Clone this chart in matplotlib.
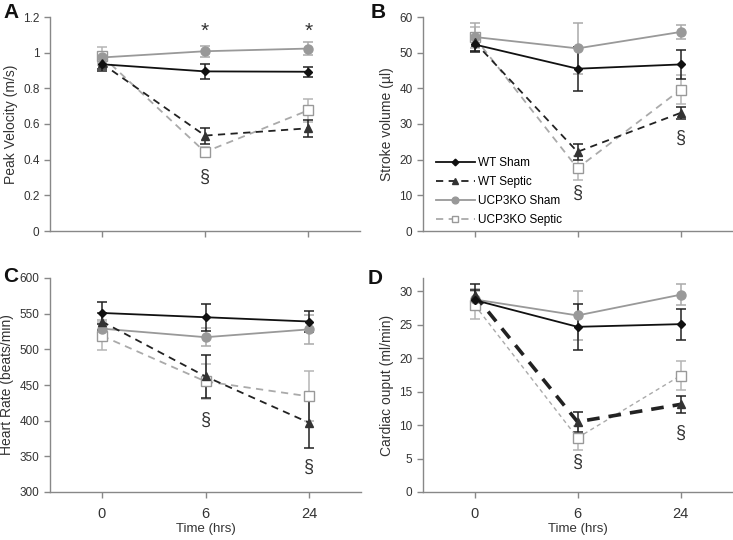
import matplotlib
matplotlib.use("Agg")
import matplotlib.pyplot as plt
import numpy as np
from matplotlib.lines import Line2D

plt.rcParams['font.family'] = ['Liberation Sans', 'DejaVu Sans']

time_labels = ["0", "6", "24"]
series_names = ["WT Sham", "WT Septic", "UCP3KO Sham", "UCP3KO Septic"]

# Panel A: Peak velocity (m/s)
pv_mean = {
    "WT Sham": [0.935, 0.895, 0.893],
    "WT Septic": [0.94, 0.535, 0.576],
    "UCP3KO Sham": [0.973, 1.008, 1.023],
    "UCP3KO Septic": [0.983, 0.443, 0.677],
}
pv_err = {
    "WT Sham": [0.035, 0.04, 0.028],
    "WT Septic": [0.03, 0.045, 0.048],
    "UCP3KO Sham": [0.03, 0.03, 0.037],
    "UCP3KO Septic": [0.05, 0.03, 0.065],
}

# Panel B: Stroke volume (µl)
sv_mean = {
    "WT Sham": [52.3, 45.5, 46.7],
    "WT Septic": [53.0, 22.2, 33.1],
    "UCP3KO Sham": [54.4, 51.2, 55.8],
    "UCP3KO Septic": [54.3, 17.6, 39.6],
}
sv_err = {
    "WT Sham": [2.0, 6.2, 4.0],
    "WT Septic": [2.5, 2.3, 1.7],
    "UCP3KO Sham": [3.8, 7.2, 2.0],
    "UCP3KO Septic": [3.0, 3.3, 4.0],
}

# Panel C: Heart rate (beats/min)
hr_mean = {
    "WT Sham": [551, 545, 539],
    "WT Septic": [539, 462, 397],
    "UCP3KO Sham": [529, 517, 528],
    "UCP3KO Septic": [519, 455, 434],
}
hr_err = {
    "WT Sham": [15, 19, 15],
    "WT Septic": [12, 30, 36],
    "UCP3KO Sham": [12, 13, 20],
    "UCP3KO Septic": [20, 24, 35],
}

# Panel D: Cardiac output (ml/min)
co_mean = {
    "WT Sham": [28.7, 24.7, 25.1],
    "WT Septic": [29.5, 10.5, 13.1],
    "UCP3KO Sham": [28.8, 26.4, 29.5],
    "UCP3KO Septic": [28.0, 8.1, 17.4],
}
co_err = {
    "WT Sham": [1.5, 3.4, 2.3],
    "WT Septic": [1.6, 1.5, 1.3],
    "UCP3KO Sham": [1.5, 3.7, 1.6],
    "UCP3KO Septic": [2.1, 1.8, 2.2],
}

styles = {
    "WT Sham": dict(color="#111111", ecolor="#222222", ls="-", marker="D", ms=4.5, mfc="#111111", mec="#111111", lw=1.3),
    "WT Septic": dict(color="#222222", ecolor="#222222", ls=(0, (4, 3)), marker="^", ms=6, mfc="#333333", mec="#333333", lw=1.3),
    "UCP3KO Sham": dict(color="#999999", ecolor="#aaaaaa", ls="-", marker="o", ms=6.5, mfc="#999999", mec="#999999", lw=1.3),
    "UCP3KO Septic": dict(color="#aaaaaa", ecolor="#b5b5b5", ls=(0, (4, 3)), marker="s", ms=6.5, mfc="white", mec="#999999", lw=1.3),
}

fig = plt.figure(figsize=(7.33, 5.4), dpi=100)
W, H = 733, 540

def add_ax(l, r, t, b):
    return fig.add_axes([l / W, 1 - b / H, (r - l) / W, (b - t) / H])

axA = add_ax(50, 360, 17, 231)
axB = add_ax(423, 732, 17, 231)
axC = add_ax(50, 361, 278, 492)
axD = add_ax(423, 732, 278, 492)

x = np.arange(len(time_labels))
spine_col = "#888888"

def draw(ax, means, errs, ylim, yticks, yticklabels, ylabel, show_x, thick_wt_septic=False, fine_ko_septic=False):
    order = ["UCP3KO Septic", "UCP3KO Sham", "WT Septic", "WT Sham"]
    for name in order:
        st = dict(styles[name])
        ec = st.pop("ecolor")
        lw = st.pop("lw")
        ls = st.pop("ls")
        if thick_wt_septic and name == "WT Septic":
            lw = 2.6
            ls = (0, (3.5, 2.5))
        if fine_ko_septic and name == "UCP3KO Septic":
            lw = 1.0
            ls = (0, (3, 2.5))
        ax.errorbar(x, means[name], yerr=errs[name], ecolor=ec, elinewidth=1.1,
                    capsize=3.5, capthick=1.1, lw=lw, ls=ls, **st, label=name)
    ax.set_xlim(-0.5, 2.5)
    ax.set_ylim(*ylim)
    ax.set_yticks(yticks)
    ax.set_yticklabels(yticklabels, fontsize=8.5, color="#333333")
    ax.set_xticks(x)
    if show_x:
        ax.set_xticklabels(time_labels, fontsize=10.5, color="#222222")
        ax.set_xlabel("Time (hrs)", fontsize=9.5, color="#333333", labelpad=1)
    else:
        ax.set_xticklabels([])
    ax.set_ylabel(ylabel, fontsize=10, color="#333333", labelpad=4)
    for s in ["top", "right"]:
        ax.spines[s].set_visible(False)
    for s in ["left", "bottom"]:
        ax.spines[s].set_color(spine_col)
        ax.spines[s].set_linewidth(1.0)
    ax.tick_params(axis="both", colors=spine_col, length=4, width=1.0, labelcolor="#333333")
    ax.tick_params(axis="x", pad=7)

draw(axA, pv_mean, pv_err, (0, 1.2), [0, 0.2, 0.4, 0.6, 0.8, 1.0, 1.2],
     ["0", "0.2", "0.4", "0.6", "0.8", "1", "1.2"], "Peak Velocity (m/s)", False)
draw(axB, sv_mean, sv_err, (0, 60), [0, 10, 20, 30, 40, 50, 60],
     ["0", "10", "20", "30", "40", "50", "60"], "Stroke volume (µl)", False)
draw(axC, hr_mean, hr_err, (300, 600), [300, 350, 400, 450, 500, 550, 600],
     ["300", "350", "400", "450", "500", "550", "600"], "Heart Rate (beats/min)", True)
draw(axD, co_mean, co_err, (0, 32), [0, 5, 10, 15, 20, 25, 30],
     ["0", "5", "10", "15", "20", "25", "30"], "Cardiac ouput (ml/min)", True,
     thick_wt_septic=True, fine_ko_septic=True)

# Legend in panel B
leg_handles = []
for name in series_names:
    st = styles[name]
    leg_handles.append(Line2D([], [], color=st["color"], ls=st["ls"], lw=st["lw"], marker=st["marker"],
                              ms=st["ms"] * 0.75, mfc=st["mfc"], mec=st["mec"]))
axB.legend(leg_handles, series_names, loc="lower left", bbox_to_anchor=(0.015, -0.015),
           frameon=False, fontsize=8.5, handlelength=3.3, handletextpad=0.25, labelspacing=0.6,
           borderaxespad=0.3)

# Significance marks
sym_col = "#333333"
for xi in [1, 2]:
    axA.text(xi, 1.12, "*", ha="center", va="center", fontsize=15, color=sym_col)
axA.text(1, 0.30, "§", ha="center", va="center", fontsize=13, color=sym_col)
axB.text(1, 10.6, "§", ha="center", va="center", fontsize=13, color=sym_col)
axB.text(2, 26.0, "§", ha="center", va="center", fontsize=13, color=sym_col)
axC.text(1, 401, "§", ha="center", va="center", fontsize=13, color=sym_col)
axC.text(2, 335, "§", ha="center", va="center", fontsize=13, color=sym_col)
axD.text(1, 4.5, "§", ha="center", va="center", fontsize=13, color=sym_col)
axD.text(2, 8.8, "§", ha="center", va="center", fontsize=13, color=sym_col)

# Panel letters
for lab, px, py in [("A", 3, 13), ("B", 371, 12), ("C", 3, 277), ("D", 368, 278)]:
    fig.text(px / W, 1 - py / H, lab, fontsize=15, fontweight="bold", ha="left", va="center", color="#111111")

fig.savefig("out.png", dpi=100)
